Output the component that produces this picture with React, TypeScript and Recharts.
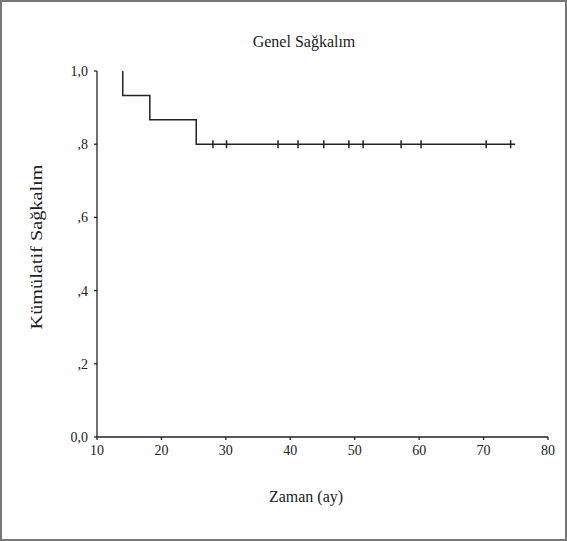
import { ComposedChart, Line, Scatter, XAxis, YAxis, Label } from 'recharts'

// Kaplan-Meier steps (time in months, cumulative survival)
const stepTimes = [14, 14, 18.2, 25.4, 74.9]
const stepSurvival = [1, 0.933, 0.867, 0.8, 0.8]

// censored observations sit on the 0.8 plateau
const censorTimes = [28.0, 30.1, 38.1, 41.2, 45.2, 49.1, 51.3, 57.2, 60.3, 70.4, 74.2]
const censorLevel = 0.8

const xTicks = [10, 20, 30, 40, 50, 60, 70, 80]
const yTicks = [0, 0.2, 0.4, 0.6, 0.8, 1]

const curve = stepTimes.map((t, i) => ({ t, s: stepSurvival[i] }))
const censored = censorTimes.map((t) => ({ t, s: censorLevel }))

const font = '"Liberation Serif", "DejaVu Serif", serif'
const ink = '#222'

const fmtY = (v: number) => {
  if (v === 0) return '0,0'
  if (v === 1) return '1,0'
  return ',' + Math.round(v * 10)
}

const CensorMark = (props: any) => {
  const { cx, cy } = props
  return <line x1={cx} x2={cx} y1={cy - 4} y2={cy + 4} stroke={ink} strokeWidth={1.5} />
}

const App = () => {
  return (
    <div style={{ position: 'relative', width: 567, height: 541, background: '#fff' }}>
      <style>{`body { margin: 0; }`}</style>
      <ComposedChart
        width={567}
        height={541}
        margin={{ top: 71, right: 19, bottom: 0, left: 0 }}
        style={{ fontFamily: font }}
      >
        <XAxis
          dataKey="t"
          type="number"
          domain={[10, 80]}
          ticks={xTicks}
          height={104}
          stroke={ink}
          strokeWidth={1.3}
          tickSize={3}
          tickMargin={5}
          tick={{ fontSize: 14, fill: ink, fontFamily: font }}
          allowDataOverflow
        >
          <Label
            content={() => (
              <text x={306} y={502} textAnchor="middle" fontSize={16} fill={ink} fontFamily={font}>
                Zaman (ay)
              </text>
            )}
          />
          <Label
            content={() => (
              <text x={304} y={47} textAnchor="middle" fontSize={16} fill={ink} fontFamily={font}>
                Genel Sağkalım
              </text>
            )}
          />
        </XAxis>
        <YAxis
          type="number"
          domain={[0, 1]}
          ticks={yTicks}
          width={97}
          stroke={ink}
          strokeWidth={1.3}
          tickSize={3}
          tickMargin={6}
          tickFormatter={fmtY}
          tick={{ fontSize: 14, fill: ink, fontFamily: font }}
        >
          <Label
            content={() => (
              <text
                x={36}
                y={247}
                textAnchor="middle"
                dominantBaseline="central"
                fontSize={16}
                textLength={165}
                lengthAdjust="spacingAndGlyphs"
                fill={ink}
                fontFamily={font}
                transform="rotate(-90 36 247)"
              >
                Kümülatif Sağkalım
              </text>
            )}
          />
        </YAxis>
        <Line
          data={curve}
          dataKey="s"
          type="stepAfter"
          stroke={ink}
          strokeWidth={1.5}
          dot={false}
          activeDot={false}
          isAnimationActive={false}
        />
        <Scatter data={censored} dataKey="s" shape={<CensorMark />} isAnimationActive={false} />
      </ComposedChart>
      <div
        style={{
          position: 'absolute',
          inset: 0,
          border: '2px solid #777',
          pointerEvents: 'none',
        }}
      />
    </div>
  )
}

export default App
